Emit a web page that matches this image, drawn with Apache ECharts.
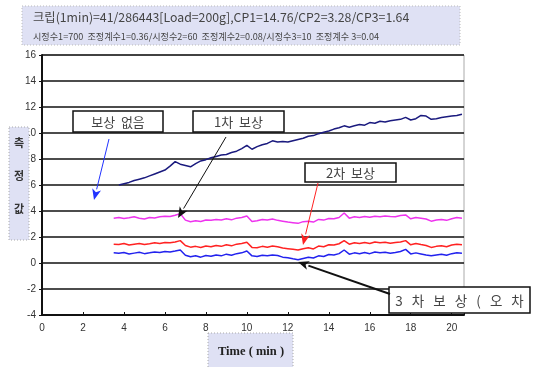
<!DOCTYPE html>
<html>
<head>
<meta charset="utf-8">
<script src="https://cdn.jsdelivr.net/npm/echarts@6.0.0/dist/echarts.min.js"></script>
<style>
  html, body { margin: 0; padding: 0; background: #fff; }
  #chart { width: 538px; height: 367px; }
</style>
</head>
<body>
<div id="chart"></div>
<script>
// 측정 시간 (min)
const times = [3.5, 3.75, 4, 4.25, 4.5, 4.75, 5, 5.25, 5.5, 5.75, 6, 6.25, 6.5, 6.75, 7, 7.25, 7.5, 7.75,
  8, 8.25, 8.5, 8.75, 9, 9.25, 9.5, 9.75, 10, 10.25, 10.5, 10.75, 11, 11.25, 11.5, 11.75, 12, 12.25,
  12.5, 12.75, 13, 13.25, 13.5, 13.75, 14, 14.25, 14.5, 14.75, 15, 15.25, 15.5, 15.75, 16, 16.25,
  16.5, 16.75, 17, 17.25, 17.5, 17.75, 18, 18.25, 18.5, 18.75, 19, 19.25, 19.5, 19.75, 20, 20.25, 20.5];

// 보상 없음
const noComp = [null, 6.0, 6.1, 6.2, 6.35, 6.45, 6.55, 6.7, 6.85, 7.0, 7.15, 7.45, 7.8, 7.6, 7.5, 7.4,
  7.65, 7.85, 7.95, 8.1, 8.2, 8.3, 8.35, 8.5, 8.6, 8.8, 9.05, 8.75, 8.95, 9.1, 9.2, 9.4, 9.3, 9.35,
  9.3, 9.4, 9.5, 9.6, 9.75, 9.8, 9.95, 10.05, 10.15, 10.3, 10.4, 10.55, 10.45, 10.55, 10.65, 10.6,
  10.8, 10.75, 10.9, 10.85, 10.95, 11.0, 11.05, 11.2, 11.0, 11.1, 11.35, 11.3, 11.05, 11.1, 11.2,
  11.25, 11.3, 11.35, 11.45];
// 1차 보상
const comp1 = [3.45, 3.5, 3.42, 3.48, 3.55, 3.45, 3.38, 3.5, 3.47, 3.55, 3.6, 3.58, 3.68, 3.8, 3.3,
  3.18, 3.25, 3.2, 3.3, 3.28, 3.35, 3.3, 3.4, 3.32, 3.45, 3.5, 3.62, 3.2, 3.25, 3.35, 3.3, 3.38, 3.28,
  3.22, 3.15, 3.1, 3.05, 3.18, 3.22, 3.15, 3.35, 3.3, 3.42, 3.4, 3.5, 3.85, 3.45, 3.55, 3.5, 3.58,
  3.52, 3.6, 3.55, 3.62, 3.58, 3.55, 3.65, 3.7, 3.4, 3.5, 3.45, 3.38, 3.22, 3.3, 3.35, 3.28, 3.4,
  3.5, 3.45];
// 2차 보상
const comp2 = [1.45, 1.42, 1.5, 1.38, 1.45, 1.5, 1.42, 1.48, 1.55, 1.5, 1.58, 1.55, 1.62, 1.72, 1.35,
  1.22, 1.28, 1.2, 1.3, 1.25, 1.35, 1.28, 1.4, 1.32, 1.45, 1.5, 1.6, 1.2, 1.18, 1.28, 1.22, 1.3, 1.25,
  1.15, 1.1, 1.05, 1.0, 1.1, 1.18, 1.08, 1.3, 1.25, 1.4, 1.38, 1.48, 1.72, 1.45, 1.55, 1.5, 1.58,
  1.5, 1.62, 1.55, 1.6, 1.52, 1.58, 1.62, 1.72, 1.4, 1.5, 1.42, 1.35, 1.2, 1.28, 1.32, 1.25, 1.38,
  1.45, 1.4];
// 3차 보상 (오차)
const comp3 = [0.78, 0.75, 0.8, 0.7, 0.76, 0.82, 0.72, 0.78, 0.85, 0.8, 0.88, 0.85, 0.92, 1.0, 0.6,
  0.48, 0.55, 0.45, 0.58, 0.52, 0.62, 0.55, 0.68, 0.6, 0.72, 0.78, 0.92, 0.55, 0.5, 0.6, 0.55, 0.62,
  0.58, 0.45, 0.4, 0.32, 0.25, 0.35, 0.45, 0.38, 0.55, 0.5, 0.65, 0.62, 0.72, 1.0, 0.68, 0.78, 0.72,
  0.8, 0.72, 0.85, 0.78, 0.82, 0.75, 0.8, 0.88, 1.05, 0.7, 0.78, 0.7, 0.62, 0.55, 0.62, 0.68, 0.6,
  0.72, 0.78, 0.75];

const titleLine1 = "크립(1min)=41/286443[Load=200g],CP1=14.76/CP2=3.28/CP3=1.64";
const titleLine2 = "시정수1=700  조정계수1=0.36/시정수2=60  조정계수2=0.08/시정수3=10  조정계수 3=0.04";

const KR = '"Noto Sans CJK KR", "Noto Sans", sans-serif';

const chart = echarts.init(document.getElementById("chart"), null, { renderer: "canvas" });

// 화살표 (선 + 머리)
function arrow(x1, y1, x2, y2, color, width) {
  const dx = x2 - x1, dy = y2 - y1;
  const len = Math.sqrt(dx * dx + dy * dy);
  const ux = dx / len, uy = dy / len;
  const hl = 11, hw = 4.5;
  const bx = x2 - ux * hl, by = y2 - uy * hl;
  return [
    {
      type: "line",
      shape: { x1: x1, y1: y1, x2: bx, y2: by },
      style: { stroke: color, lineWidth: width },
      z: 50,
    },
    {
      type: "polygon",
      shape: { points: [[x2, y2], [bx - uy * hw, by + ux * hw], [bx + ux * 3, by + uy * 3], [bx + uy * hw, by - ux * hw]] },
      style: { fill: color },
      z: 50,
    },
  ];
}

function labelBox(x, y, w, h, text, size) {
  return [
    {
      type: "rect",
      shape: { x: x, y: y, width: w, height: h },
      style: { fill: "#fff", stroke: "#111", lineWidth: 1.5 },
      z: 40,
    },
    {
      type: "text",
      style: {
        text: text, x: x + w / 2, y: y + h / 2 + 1,
        align: "center", verticalAlign: "middle",
        font: (size || 13) + "px " + KR, fill: "#444",
      },
      z: 41,
    },
  ];
}

const series = [
  { name: "보상 없음", data: noComp, color: "#1a1a7e" },
  { name: "1차 보상", data: comp1, color: "#ee33ee" },
  { name: "2차 보상", data: comp2, color: "#ff2222" },
  { name: "3차 보상", data: comp3, color: "#2222ee" },
].map((s) => ({
  name: s.name,
  type: "line",
  data: times.map((t, i) => [t, s.data[i]]),
  showSymbol: false,
  lineStyle: { color: s.color, width: 1.5 },
  itemStyle: { color: s.color },
  connectNulls: false,
  z: 10,
}));

chart.setOption({
  backgroundColor: "#fff",
  animation: false,
  grid: { left: 42, top: 55, width: 422, height: 260, show: true, borderColor: "#aaa", borderWidth: 1 },
  xAxis: {
    type: "value",
    min: 0,
    max: 20.6,
    interval: 2,
    axisLine: { show: true, onZero: false, lineStyle: { color: "#111", width: 2 } },
    axisTick: { show: true, inside: true, length: 3, lineStyle: { color: "#111" } },
    axisLabel: {
      color: "#333", fontSize: 10, fontFamily: "Liberation Sans", margin: 8,
      formatter: (v) => (v % 2 === 0 ? String(v) : ""),
    },
    splitLine: { show: false },
  },
  yAxis: {
    type: "value",
    min: -4,
    max: 16,
    interval: 2,
    axisLine: { show: true, lineStyle: { color: "#111", width: 2 } },
    axisTick: { show: true, length: 3, lineStyle: { color: "#111" } },
    axisLabel: { color: "#333", fontSize: 10, fontFamily: "Liberation Sans", margin: 6 },
    splitLine: { show: true, lineStyle: { color: "#111", width: 1.5 } },
  },
  series: series,
  graphic: [
    // 제목 상자
    {
      type: "rect",
      shape: { x: 22, y: 6, width: 438, height: 39 },
      style: { fill: "#dfe1f4", stroke: "#bbb", lineWidth: 1, lineDash: [1, 2] },
      z: 30,
    },
    {
      type: "text",
      style: { text: titleLine1, x: 33, y: 17, verticalAlign: "middle", font: "12.3px " + KR, fill: "#444" },
      z: 31,
    },
    {
      type: "text",
      style: { text: titleLine2, x: 33, y: 37, verticalAlign: "middle", font: "9.1px " + KR, fill: "#444" },
      z: 31,
    },
    // y축 이름
    {
      type: "rect",
      shape: { x: 9, y: 127, width: 20, height: 113 },
      style: { fill: "#dfe1f4", stroke: "#aaa", lineWidth: 1, lineDash: [1, 2] },
      z: 30,
    },
    {
      type: "text",
      style: { text: "측\n\n정\n\n값", x: 19, y: 176, align: "center", verticalAlign: "middle", font: "bold 11px " + KR, fill: "#333", lineHeight: 16.5 },
      z: 31,
    },
    // x축 이름
    {
      type: "rect",
      shape: { x: 208, y: 333, width: 85, height: 40 },
      style: { fill: "#dfe1f4", stroke: "#aaa", lineWidth: 1, lineDash: [1, 2] },
      z: 30,
    },
    {
      type: "text",
      style: { text: "Time ( min )", x: 251, y: 352, align: "center", verticalAlign: "middle", font: 'bold 12.5px "Liberation Serif", serif', fill: "#222" },
      z: 31,
    },
    ...labelBox(73, 111, 90, 21, "보상  없음"),
    ...labelBox(193, 111, 91, 21, "1차  보상"),
    ...labelBox(305, 163, 91, 19, "2차  보상"),
    ...labelBox(389, 287, 141, 26, "3   차   보   상   (   오   차", 13.5),
    ...arrow(109, 139, 94, 200, "#2233ff", 1),
    ...arrow(226, 137, 178, 218, "#111", 1),
    ...arrow(318, 183, 303, 245, "#ff2222", 1),
    ...arrow(390, 294, 298, 262, "#111", 2),
  ],
});
</script>
</body>
</html>
